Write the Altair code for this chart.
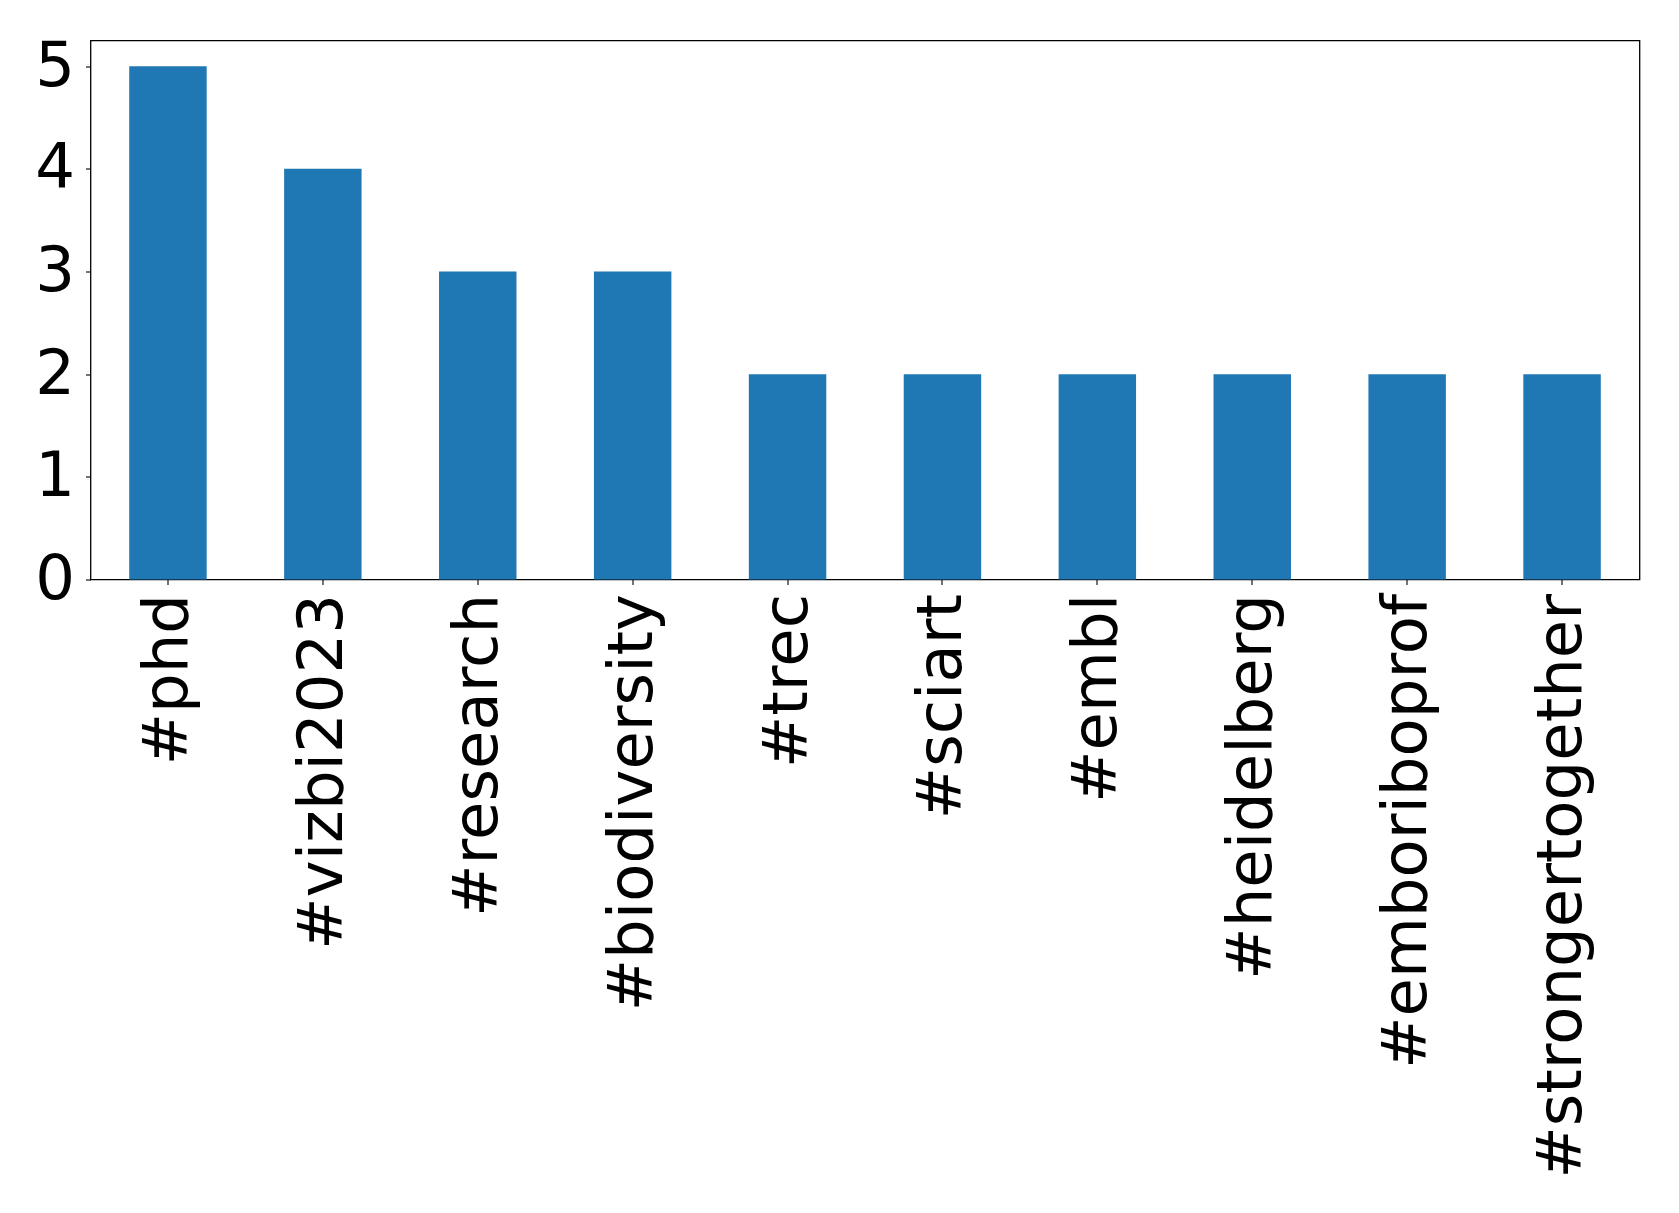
import altair as alt
import pandas as pd

hashtags = ["#phd", "#vizbi2023", "#research", "#biodiversity", "#trec",
            "#sciart", "#embl", "#heidelberg", "#emboriboprof", "#strongertogether"]
counts = [5, 4, 3, 3, 2, 2, 2, 2, 2, 2]

df = pd.DataFrame({"tag": hashtags, "count": counts})

chart = alt.Chart(df).mark_bar(color="#1f77b4").encode(
    x=alt.X("tag:N", sort=hashtags, title=None,
            scale=alt.Scale(paddingInner=0.5, paddingOuter=0.25),
            axis=alt.Axis(labelAngle=270, labelFontSize=62.5, labelFont="DejaVu Sans",
                          labelColor="black", tickColor="black", domainColor="black",
                          tickSize=5, tickWidth=1.1, labelPadding=9, labelLimit=0,
                          domain=False)),
    y=alt.Y("count:Q", title=None,
            scale=alt.Scale(domain=[0, 5.25], nice=False),
            axis=alt.Axis(values=[0, 1, 2, 3, 4, 5], grid=False, labelFontSize=62.5,
                          labelFont="DejaVu Sans", labelColor="black",
                          tickColor="black", domainColor="black", tickSize=5,
                          tickWidth=1.1, labelPadding=11, domain=False)),
).properties(
    width=1549, height=539,
    autosize=alt.AutoSizeParams(type="none"),
    padding={"left": 82.5, "top": 32.5, "right": 30, "bottom": 620},
).configure_view(stroke="black", strokeWidth=1.3)

chart.save("out.html", embed_options={"renderer": "svg", "actions": False})
